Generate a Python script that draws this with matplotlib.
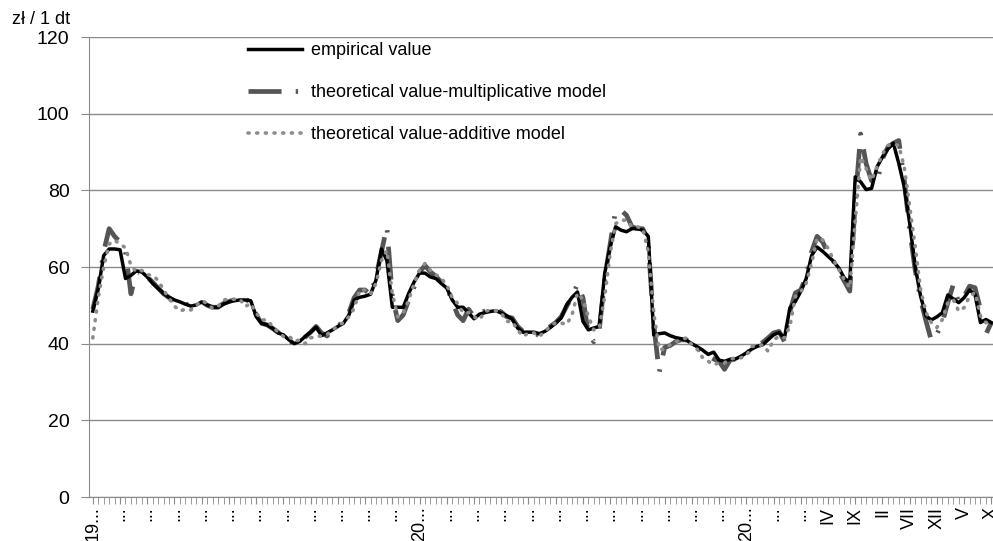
from matplotlib import pyplot as plt
from matplotlib.ticker import MultipleLocator
import numpy as np

plt.rcParams['font.family'] = ['Liberation Sans', 'DejaVu Sans']

# monthly prices, zl / 1 dt
empirical = [
    48.5, 54.4, 63.0, 64.7, 64.7, 64.5, 57.0, 57.8, 59.0, 58.7,
    57.4, 55.7, 54.4, 53.1, 52.1, 51.4, 50.9, 50.3, 49.8, 50.1,
    50.9, 50.1, 49.5, 49.5, 50.3, 50.9, 51.2, 51.4, 51.4, 51.2,
    47.1, 45.3, 44.9, 44.0, 42.8, 42.3, 41.0, 40.0, 40.6, 41.9,
    43.0, 44.3, 42.1, 42.8, 43.6, 44.5, 45.3, 47.4, 51.4, 52.1,
    52.4, 52.9, 56.6, 64.7, 61.7, 49.5, 49.5, 49.5, 53.1, 56.1,
    58.4, 58.4, 57.4, 57.0, 55.7, 54.5, 51.4, 49.5, 49.5, 48.0,
    46.5, 47.7, 48.1, 48.4, 48.6, 48.0, 47.3, 46.4, 44.1, 43.0,
    43.0, 43.0, 42.6, 43.2, 44.2, 45.4, 46.7, 50.1, 52.1, 53.5,
    45.8, 43.6, 44.1, 44.5, 58.4, 65.3, 70.5, 69.6, 69.2, 70.0,
    70.0, 69.6, 68.0, 42.3, 42.6, 42.8, 42.1, 41.6, 41.3, 40.9,
    40.0, 39.2, 38.3, 37.2, 37.8, 35.7, 35.4, 35.9, 36.0, 36.7,
    37.6, 38.6, 39.3, 39.7, 41.0, 42.3, 42.9, 41.5, 49.3, 51.0,
    53.6, 57.0, 63.0, 65.2, 64.1, 62.8, 61.5, 59.7, 57.1, 56.0,
    83.5, 82.2, 80.2, 80.5, 86.1, 88.7, 90.8, 92.3, 87.0, 80.9,
    71.4, 60.2, 52.4, 47.2, 46.2, 47.0, 48.1, 52.7, 51.7, 50.7,
    52.0, 54.0, 52.8, 45.5, 46.3, 45.5,
]

multiplicative = [
    49.0, 55.0, 64.0, 70.0, 68.0, 66.5, 64.0, 53.0, 58.5, 59.0,
    57.5, 56.0, 54.5, 53.0, 52.0, 51.0, 50.5, 50.0, 50.5, 51.0,
    51.0, 50.0, 49.5, 49.5, 50.5, 51.0, 51.5, 51.5, 51.5, 51.0,
    47.5, 45.3, 44.9, 44.0, 43.0, 41.6, 40.8, 40.0, 40.6, 41.7,
    43.0, 44.5, 42.8, 42.0, 43.5, 44.5, 46.0, 48.0, 52.0, 54.0,
    54.0, 52.7, 57.4, 64.0, 70.5, 52.4, 46.0, 47.5, 51.4, 54.8,
    58.7, 60.4, 58.7, 57.6, 56.0, 55.0, 51.0, 47.5, 46.0, 49.0,
    47.0, 48.0, 48.5, 48.8, 48.8, 48.3, 47.0, 46.7, 44.5, 43.2,
    42.8, 43.0, 42.0, 43.2, 44.5, 45.5, 47.0, 49.7, 52.3, 55.5,
    52.0, 42.5, 40.5, 43.5, 57.0, 66.0, 74.8, 74.8, 73.5, 70.5,
    70.0, 70.0, 66.0, 45.0, 32.5, 39.0, 39.5, 40.5, 41.0, 41.0,
    40.0, 39.0, 37.7, 36.8, 36.0, 35.4, 33.3, 35.7, 36.0, 36.5,
    37.5, 38.5, 39.5, 40.3, 41.5, 42.8, 43.2, 40.6, 48.4, 53.2,
    54.0, 57.5, 64.0, 68.0, 66.6, 63.6, 61.5, 58.9, 56.3, 53.7,
    77.0, 94.7, 87.0, 82.5, 82.0, 88.2, 91.3, 92.3, 93.0, 82.6,
    69.7, 59.3, 51.5, 45.9, 40.7, 42.5, 45.5, 50.7, 55.4, 50.7,
    52.4, 55.0, 54.6, 48.9, 42.5, 45.5,
]

additive = [
    41.5, 52.0, 60.0, 66.0, 67.0, 66.0, 65.0, 60.4, 58.7, 59.1,
    58.0, 57.8, 56.5, 54.0, 51.8, 49.8, 48.5, 49.0, 48.8, 50.0,
    51.2, 50.5, 49.2, 49.7, 51.4, 51.6, 51.6, 51.6, 49.7, 50.5,
    48.0, 46.2, 46.2, 44.5, 43.0, 41.9, 42.0, 40.6, 41.0, 40.0,
    41.5, 41.9, 42.0, 42.4, 43.6, 44.6, 45.5, 47.0, 49.2, 54.0,
    54.0, 53.0, 55.7, 61.7, 64.3, 53.0, 47.0, 48.0, 51.4, 55.7,
    59.1, 60.9, 59.1, 58.0, 57.0, 55.3, 52.0, 50.5, 48.0, 48.1,
    47.0, 46.2, 48.4, 48.8, 48.6, 48.0, 45.8, 45.8, 43.6, 41.9,
    42.8, 42.8, 41.9, 43.2, 44.5, 45.5, 45.4, 45.0, 47.5, 53.2,
    51.5, 47.1, 43.6, 44.0, 52.3, 63.6, 71.3, 72.2, 72.2, 70.5,
    70.5, 70.0, 64.0, 48.0, 38.5, 38.5, 39.7, 40.5, 41.0, 41.5,
    39.7, 38.5, 36.3, 35.4, 34.5, 35.0, 35.0, 35.9, 36.3, 36.3,
    36.8, 39.3, 39.3, 39.7, 38.0, 41.0, 41.9, 41.5, 44.5, 52.3,
    53.6, 55.8, 61.0, 67.5, 67.1, 64.9, 61.9, 59.3, 56.7, 54.6,
    72.0, 88.7, 85.7, 82.6, 86.1, 89.5, 91.7, 92.1, 91.7, 86.1,
    75.7, 65.4, 54.1, 48.1, 45.5, 44.2, 46.3, 50.7, 51.5, 48.5,
    49.4, 52.4, 53.3, 47.2, 45.5, 45.5,
]

# every 5th month gets a label (long ones are cut short like in the original)
tick_labels = ['19...'] + ['...'] * 11 + ['20...'] + ['...'] * 11 + ['20...'] + \
              ['...', '...', 'IV', 'IX', 'II', 'VII', 'XII', 'V', 'X']

n = len(empirical)
x = np.arange(n)

fig = plt.figure(figsize=(9.93, 5.41), dpi=100)
ax = fig.add_axes([89 / 993, 44 / 541, 904 / 993, 460 / 541])

ax.plot(x, empirical, color='black', lw=2.5, label='empirical value', zorder=3)
ax.plot(x, multiplicative, color='#555555', lw=3.4, linestyle=(0, (7, 3, 0.5, 3)),
        label='theoretical value-multiplicative model', zorder=2)
ax.plot(x, additive, color='#8c8c8c', lw=2.6, linestyle=(0, (0.3, 2.1)),
        dash_capstyle='round', label='theoretical value-additive model', zorder=4)

ax.set_xlim(-0.7, n - 0.7)
ax.set_ylim(0, 120)
ax.set_yticks(np.arange(0, 121, 20))
ax.yaxis.grid(True, color='#8a8a8a', lw=1)
ax.set_axisbelow(True)

ax.set_xticks(x[::5])
ax.set_xticklabels(tick_labels, rotation=90, va='top', fontsize=13)
ax.xaxis.set_minor_locator(MultipleLocator(1))
ax.tick_params(axis='x', which='both', length=5, color='#8a8a8a', pad=2)
ax.tick_params(axis='y', length=6, color='#8a8a8a', labelsize=14, pad=8)

for side in ['top', 'right']:
    ax.spines[side].set_visible(False)
for side in ['left', 'bottom']:
    ax.spines[side].set_color('#8a8a8a')

fig.text(12 / 993, 1 - 20 / 541, 'zł / 1 dt', fontsize=13, va='center')

ax.legend(loc='upper left', bbox_to_anchor=(232 / 993, 1 - 26 / 541),
          bbox_transform=fig.transFigure, frameon=False, fontsize=13,
          handlelength=3.0, handletextpad=0.45, labelspacing=1.38)

fig.savefig('out.png', dpi=100)
